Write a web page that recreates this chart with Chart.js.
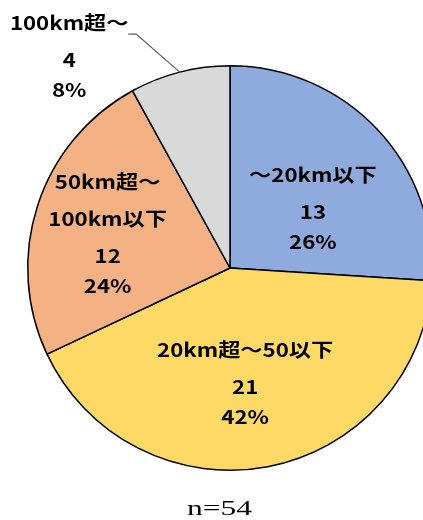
<!DOCTYPE html>
<html lang="ja">
<head>
<meta charset="utf-8">
<script src="https://cdn.jsdelivr.net/npm/chart.js@4/dist/chart.umd.min.js"></script>
<style>
  html, body { margin: 0; padding: 0; background: #fff; overflow: hidden; }
  #wrap { position: relative; width: 460px; height: 520px; }
</style>
</head>
<body>
<div id="wrap"><canvas id="pie" width="460" height="520"></canvas></div>
<script>
// 距離区分ごとの件数
const categories = [['～20km以下'], ['20km超～50以下'], ['50km超～', '100km以下'], ['100km超～']];
const counts = [13, 21, 12, 4];
const sliceColors = ['#8FAADC', '#FFD966', '#F4B183', '#D9D9D9'];
const footnote = 'n=54';

// ラベル位置（半径に対する比率、中心からのオフセット）
const labelAnchors = [[0.41, -0.295], [0.075, 0.57], [-0.605, -0.17], [-0.795, -1.045]];
const outsideLabel = [false, false, false, true];

const total = counts.reduce((a, b) => a + b, 0);

const labelPlugin = {
  id: 'sliceLabels',
  afterDatasetsDraw(chart) {
    const ctx = chart.ctx;
    const meta = chart.getDatasetMeta(0);
    const arc0 = meta.data[0];
    const cx = arc0.x, cy = arc0.y, r = arc0.outerRadius;
    const fontCJK = 'bold 19px "Noto Sans CJK JP", "Noto Sans", sans-serif';
    const sx = 1.17;

    const drawText = (txt, x, y) => {
      ctx.save();
      ctx.translate(x, y);
      ctx.scale(sx, 1);
      ctx.fillText(txt, 0, 0);
      ctx.restore();
    };

    ctx.save();
    ctx.fillStyle = '#000';
    ctx.textAlign = 'center';
    ctx.textBaseline = 'middle';
    ctx.font = fontCJK;

    counts.forEach((v, i) => {
      const [fx, fy] = labelAnchors[i];
      const bx = cx + fx * r, by = cy + fy * r;
      const lines = categories[i].concat([String(v), Math.round(v / total * 100) + '%']);
      // 行間：区分名の後は広め、件数と割合の間は狭め
      const gaps = [];
      for (let k = 0; k < lines.length - 1; k++) gaps.push(k < lines.length - 2 ? 37 : 30);
      const h = gaps.reduce((a, b) => a + b, 0);
      let y = by - h / 2;
      lines.forEach((ln, k) => {
        drawText(ln, bx, y);
        if (k < gaps.length) y += gaps[k];
      });

      if (outsideLabel[i]) {
        const el = meta.data[i];
        const mid = (el.startAngle + el.endAngle) / 2;
        const ex = cx + Math.cos(mid) * r, ey = cy + Math.sin(mid) * r;
        const ly = by - h / 2 + 11;
        ctx.strokeStyle = '#595959';
        ctx.lineWidth = 1.2;
        ctx.beginPath();
        ctx.moveTo(ex, ey);
        ctx.lineTo(bx + 67, ly);
        ctx.lineTo(bx + 59, ly);
        ctx.stroke();
      }
    });

    // 回答数
    ctx.font = '21px "Liberation Serif", "DejaVu Serif", serif';
    ctx.save();
    ctx.translate(219.5, 509);
    ctx.scale(1.5, 1);
    ctx.fillText(footnote, 0, 0);
    ctx.restore();
    ctx.restore();
  }
};

new Chart(document.getElementById('pie'), {
  type: 'pie',
  data: {
    labels: categories.map(c => c.join('')),
    datasets: [{
      data: counts,
      backgroundColor: sliceColors,
      borderColor: '#000',
      borderWidth: 1.5
    }]
  },
  options: {
    responsive: false,
    animation: false,
    events: [],
    layout: { padding: { left: 27, right: 27, top: 65, bottom: 49 } },
    plugins: {
      legend: { display: false },
      tooltip: { enabled: false }
    }
  },
  plugins: [labelPlugin]
});
</script>
</body>
</html>
